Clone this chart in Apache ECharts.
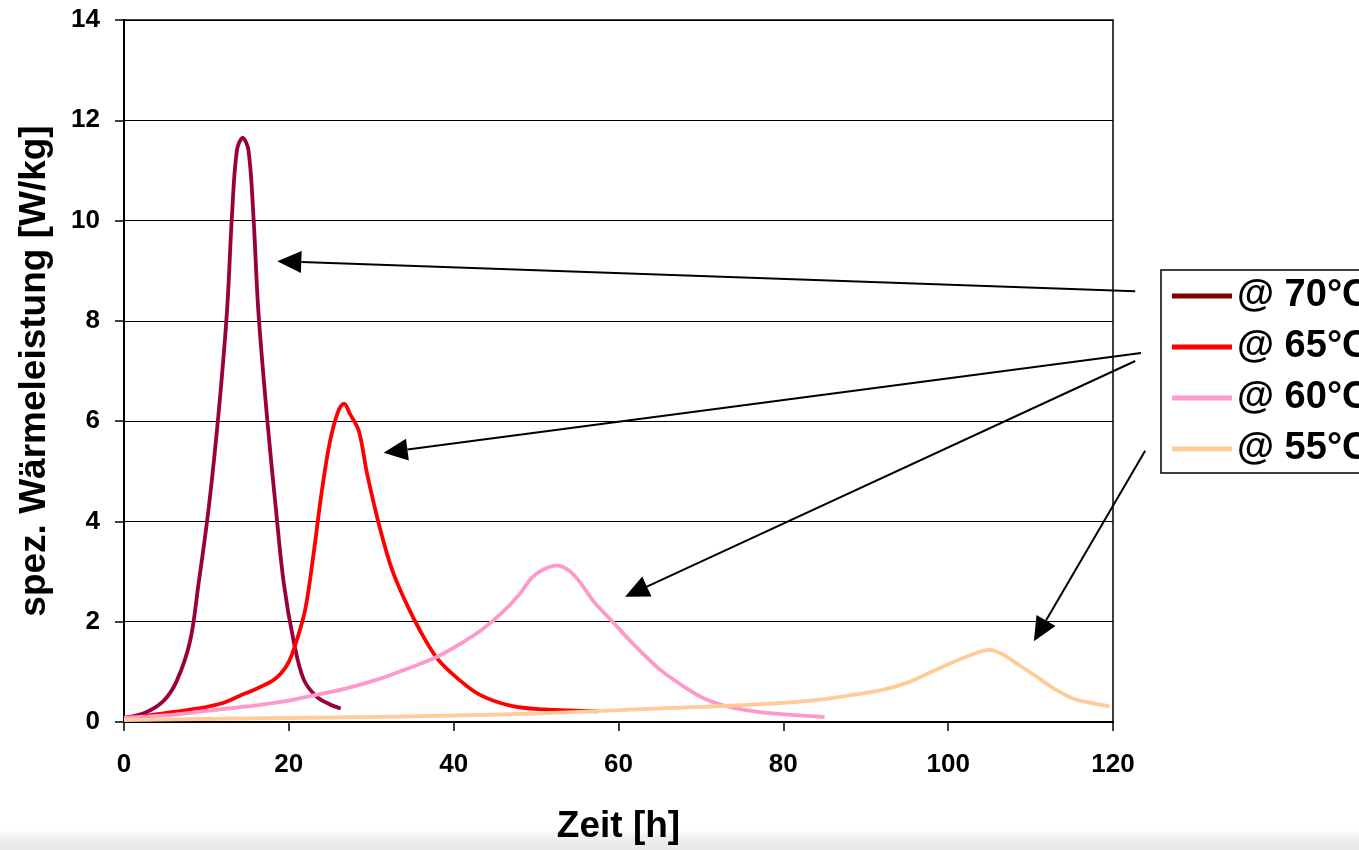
<!DOCTYPE html>
<html>
<head>
<meta charset="utf-8">
<script src="https://cdn.jsdelivr.net/npm/echarts@6/dist/echarts.min.js"></script>
<style>
html,body{margin:0;padding:0;background:#fff;}
#chart{width:1359px;height:850px;}
</style>
</head>
<body>
<div id="chart"></div>
<script>
// ---- data (x = Zeit [h], y = spez. Wärmeleistung [W/kg]) ----
const seriesNames = ['@ 70°C', '@ 65°C', '@ 60°C', '@ 55°C'];

const s70 = [[0,0.08],[2.5,0.18],[4.8,0.42],[6.4,0.82],[8.0,1.6],[9.0,2.7],[10.3,4.3],[11.5,6.2],[12.5,8.2],[13.1,10.1],[13.7,11.4],[14.4,11.65],[15.1,11.4],[15.7,10.1],[16.3,8.2],[17.4,6.0],[18.4,4.3],[19.4,2.75],[20.6,1.6],[21.8,0.85],[23.4,0.5],[25.0,0.35],[26.3,0.27]];

const s65 = [[0,0.08],[3,0.13],[6,0.2],[9,0.27],[12,0.38],[14,0.52],[16,0.66],[18,0.82],[19,0.96],[20,1.2],[21,1.65],[22,2.25],[23,3.35],[24,4.6],[25,5.6],[26,6.2],[26.7,6.35],[27.4,6.15],[28.5,5.8],[29.5,4.95],[31,3.9],[32.5,3.05],[34.3,2.35],[36,1.8],[38,1.27],[40.4,0.88],[43.2,0.54],[47,0.32],[51,0.25],[57.5,0.21]];

const s60 = [[0,0.08],[5,0.13],[10,0.22],[15,0.31],[19,0.4],[23,0.53],[27,0.67],[31,0.86],[34,1.04],[38,1.3],[41,1.58],[43.5,1.85],[46,2.2],[48,2.55],[49.5,2.88],[51,3.05],[52.5,3.12],[54,3.02],[55.5,2.75],[57,2.4],[59,2.05],[62,1.52],[65,1.05],[68,0.7],[70,0.5],[72,0.37],[74,0.28],[78,0.18],[85,0.1]];

const s55 = [[0,0.04],[10,0.06],[20,0.08],[30,0.1],[40,0.13],[50,0.17],[58,0.22],[65,0.27],[70,0.3],[78,0.36],[83,0.42],[88,0.53],[92,0.64],[95,0.78],[98,1.0],[101,1.22],[103.5,1.38],[105,1.44],[106.5,1.36],[108,1.2],[110.5,0.93],[113,0.65],[115,0.48],[117,0.39],[119.6,0.31]];

// annotation arrows: [from, to] in data units (from = legend side, to = arrow tip)
const arrows = [
  [[122.7, 8.59], [18.6, 9.19]],
  [[123.4, 7.36], [31.5, 5.37]],
  [[122.7, 7.20], [60.8, 2.50]],
  [[123.9, 5.41], [110.4, 1.61]]
];

const xTicks = {min: 0, max: 120, interval: 20};
const yTicks = {min: 0, max: 14, interval: 2};

// ---- chart ----
const FONT = 'Arial, "Liberation Sans", sans-serif';
const colors = ['#99003d', '#ff0000', '#ff99cc', '#ffcc99'];
const chart = echarts.init(document.getElementById('chart'), null, {renderer: 'canvas'});

function lineSeries(name, data, color) {
  return {
    name: name, type: 'line', data: data,
    smooth: 0.35,
    showSymbol: false, symbol: 'none',
    lineStyle: {color: color, width: 3.8},
    itemStyle: {color: color},
    clip: false, animation: false, z: 3
  };
}

chart.setOption({
  animation: false,
  backgroundColor: '#ffffff',
  grid: {left: 124, right: 246, top: 20, bottom: 126, show: true,
         borderColor: '#000', borderWidth: 1.5, backgroundColor: 'transparent'},
  xAxis: {
    type: 'value', min: xTicks.min, max: xTicks.max, interval: xTicks.interval,
    name: 'Zeit [h]', nameLocation: 'middle', nameGap: 86,
    nameTextStyle: {fontFamily: FONT, fontWeight: 'bold', fontSize: 37, color: '#000'},
    axisLine: {show: true, onZero: false, lineStyle: {color: '#000', width: 2}},
    axisTick: {show: true, length: 9, inside: false, lineStyle: {color: '#000', width: 1.5}},
    axisLabel: {margin: 30, fontFamily: FONT, fontWeight: 'bold', fontSize: 26, color: '#000'},
    splitLine: {show: false}
  },
  yAxis: {
    type: 'value', min: yTicks.min, max: yTicks.max, interval: yTicks.interval,
    name: 'spez. Wärmeleistung [W/kg]', nameLocation: 'middle', nameGap: 71,
    nameTextStyle: {fontFamily: FONT, fontWeight: 'bold', fontSize: 37, color: '#000'},
    axisLine: {show: true, lineStyle: {color: '#000', width: 2}},
    axisTick: {show: true, length: 9, inside: false, lineStyle: {color: '#000', width: 1.5}},
    axisLabel: {margin: 24, fontFamily: FONT, fontWeight: 'bold', fontSize: 26, color: '#000'},
    splitLine: {show: true, lineStyle: {color: '#000', width: 1.2}}
  },
  legend: {
    orient: 'vertical', left: 1161, top: 270,
    padding: [7, 40, 5, 11],
    itemWidth: 60, itemHeight: 5, itemGap: 13,
    icon: 'rect',
    borderColor: '#000', borderWidth: 1.5,
    backgroundColor: '#fff',
    textStyle: {fontFamily: FONT, fontWeight: 'bold', fontSize: 38, color: '#000'},
    data: [
      {name: seriesNames[0], itemStyle: {color: '#800000'}},
      {name: seriesNames[1]},
      {name: seriesNames[2]},
      {name: seriesNames[3]}
    ]
  },
  series: [
    lineSeries(seriesNames[0], s70, colors[0]),
    lineSeries(seriesNames[1], s65, colors[1]),
    lineSeries(seriesNames[2], s60, colors[2]),
    lineSeries(seriesNames[3], s55, colors[3])
  ]
});

// ---- arrows via the chart's own coordinate conversion ----
const graphics = [];
arrows.forEach(function (a) {
  const p0 = chart.convertToPixel({gridIndex: 0}, a[0]);
  const p1 = chart.convertToPixel({gridIndex: 0}, a[1]);
  const dx = p1[0] - p0[0], dy = p1[1] - p0[1];
  const len = Math.sqrt(dx * dx + dy * dy);
  const ux = dx / len, uy = dy / len;
  const headLen = 24, headHalf = 11;
  const bx = p1[0] - ux * headLen, by = p1[1] - uy * headLen;
  graphics.push({
    type: 'line', z: 10,
    shape: {x1: p0[0], y1: p0[1], x2: bx, y2: by},
    style: {stroke: '#000', lineWidth: 2}
  });
  graphics.push({
    type: 'polygon', z: 10,
    shape: {points: [[p1[0], p1[1]], [bx - uy * headHalf, by + ux * headHalf], [bx + uy * headHalf, by - ux * headHalf]]},
    style: {fill: '#000'}
  });
});
// light grey strip at the bottom edge of the screenshot
graphics.push({
  type: 'rect', z: 0, silent: true,
  shape: {x: 0, y: 830, width: 1359, height: 20},
  style: {fill: new echarts.graphic.LinearGradient(0, 0, 0, 1, [
    {offset: 0, color: '#ffffff'}, {offset: 0.4, color: '#efefef'}, {offset: 1, color: '#e8e8e8'}])}
});
chart.setOption({graphic: graphics});
</script>
</body>
</html>
